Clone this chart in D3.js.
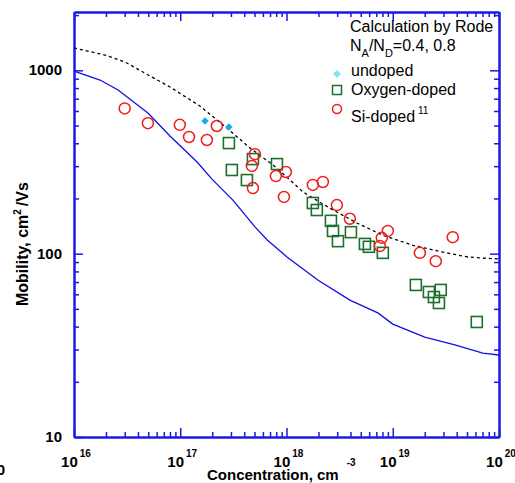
<!DOCTYPE html>
<html>
<head>
<meta charset="utf-8">
<script src="https://cdn.jsdelivr.net/npm/d3@7"></script>
<style>
  body { margin: 0; background: #fff; }
  svg { display: block; }
  text { font-family: "Liberation Sans", Arial, sans-serif; fill: #000; }
</style>
</head>
<body>
<svg id="chart" width="515" height="483"></svg>
<script>
// Rode calculation, N_A/N_D = 0.4 (dashed) and 0.8 (solid)
const rode04Conc = [1e16, 1.96e16, 3.02e16, 5.19e16, 8e16, 1.53e17, 2.75e17, 4.53e17, 7.45e17, 1.08e18, 1.43e18, 2.56e18, 4.59e18, 8.07e18, 1.55e19, 2.96e19, 5.08e19, 7.05e19, 1e20];
const rode04Mob  = [1324, 1211, 1110, 931, 811, 639, 484, 377, 305, 252, 217, 177, 147, 126, 111, 102, 95.9, 94.6, 93.5];
const rode08Conc = [1e16, 1.76e16, 2.6e16, 4.96e16, 8e16, 1.44e17, 1.99e17, 3.13e17, 5.05e17, 6.55e17, 1.01e18, 1.97e18, 3.95e18, 7.24e18, 1e19, 2e19, 3.84e19, 7.04e19, 1e20];
const rode08Mob  = [990, 885, 781, 585, 438, 316, 255, 196, 140, 119, 96, 71.8, 55.8, 47.5, 41.3, 35.1, 31.8, 28.7, 28.0];

// measured points
const undopedConc = [1.71e17, 2.87e17];
const undopedMob  = [529, 491];
const oxygenConc = [2.87e17, 3.06e17, 4.24e17, 4.83e17, 8.13e17, 1.77e18, 1.93e18, 2.62e18, 2.74e18, 3.05e18, 4.04e18, 5.47e18, 5.96e18, 8.07e18, 1.65e19, 2.19e19, 2.83e19, 2.44e19, 2.72e19, 6.18e19];
const oxygenMob  = [401, 286, 252, 328, 308, 189, 173, 151, 133, 117, 131, 113, 109, 101, 67.5, 61.8, 63.4, 58.0, 53.8, 42.4];
const siConc = [3e16, 4.96e16, 9.9e16, 1.21e17, 1.78e17, 2.21e17, 5.04e17, 4.72e17, 4.83e17, 7.94e17, 9.87e17, 9.46e17, 1.77e18, 2.2e18, 2.98e18, 3.95e18, 7.89e18, 8.99e18, 7.56e18, 1.8e19, 2.54e19, 3.67e19];
const siMob  = [620, 515, 504, 433, 417, 497, 349, 301, 228, 265, 279, 204, 237, 246, 184, 155, 122, 133, 110, 101, 91, 123];

// ticks
const xTickExps = [16, 17, 18, 19, 20];
const yTickVals = [10, 100, 1000];
const yTickLabels = ["10", "100", "1000"];

const svg = d3.select("#chart");
const axisColor = "#1a1ae6";

const x = d3.scaleLog().domain([1e16, 1e20]).range([74, 499]);
const y = d3.scaleLog().domain([10, 2080]).range([437, 12]);

const xMajor = xTickExps.map(e => Math.pow(10, e));
const xMinor = d3.range(16, 20).flatMap(e => d3.range(2, 10).map(k => k * Math.pow(10, e)));
const yMinor = [1, 2, 3].flatMap(e => d3.range(2, 10).map(k => k * Math.pow(10, e))).filter(v => v < 2080);

function styleAxis(g) {
  g.select(".domain").attr("stroke", axisColor).attr("stroke-width", 2);
  g.selectAll(".tick line").attr("stroke", axisColor).attr("stroke-width", 1.5);
  g.selectAll(".tick text").remove();
}

// frame + inward ticks on all four sides
[[d3.axisBottom, "translate(0,437)", x, xMajor, xMinor],
 [d3.axisTop, "translate(0,12)", x, xMajor, xMinor],
 [d3.axisLeft, "translate(74,0)", y, yTickVals, yMinor],
 [d3.axisRight, "translate(499,0)", y, yTickVals, yMinor]].forEach(([ax, tr, sc, major, minor]) => {
  svg.append("g").attr("transform", tr)
    .call(ax(sc).tickValues(minor).tickSize(-5).tickSizeOuter(0).tickFormat(""))
    .call(styleAxis);
  svg.append("g").attr("transform", tr)
    .call(ax(sc).tickValues(major).tickSize(-9).tickSizeOuter(0).tickFormat(""))
    .call(styleAxis);
});

// y tick labels
svg.append("g").selectAll("text")
  .data(yTickVals)
  .join("text")
  .attr("x", 62)
  .attr("y", d => y(d) + 5)
  .attr("text-anchor", "end")
  .attr("font-size", 15)
  .attr("font-weight", "bold")
  .text((d, i) => yTickLabels[i]);

// x tick labels 10^n
const xl = svg.append("g").selectAll("text")
  .data(xTickExps)
  .join("text")
  .attr("x", d => x(Math.pow(10, d)) + 2)
  .attr("y", 467)
  .attr("text-anchor", "middle")
  .attr("font-size", 15)
  .attr("font-weight", "bold");
xl.append("tspan").text("10");
xl.append("tspan").attr("dx", 2).attr("dy", -10).attr("font-size", 10).text(d => d);

// stray clipped label at far left
svg.append("text").attr("x", 5).attr("y", 475).attr("text-anchor", "end")
  .attr("font-size", 15).attr("font-weight", "bold").text("0");

// axis titles
const xt = svg.append("text").attr("x", 207).attr("y", 480)
  .attr("font-size", 15).attr("font-weight", "bold");
xt.append("tspan").text("Concentration, cm");
xt.append("tspan").attr("dx", 8).attr("dy", -14).attr("font-size", 10).text("-3");

const yt = svg.append("text")
  .attr("transform", "translate(28,306) rotate(-90)")
  .attr("font-size", 16).attr("font-weight", "bold");
yt.append("tspan").text("Mobility, cm");
yt.append("tspan").attr("dy", -7).attr("font-size", 10).text("2");
yt.append("tspan").attr("dy", 7).attr("dx", 3).text("/Vs");

// curves
const line = d3.line().x(d => x(d[0])).y(d => y(d[1]));
svg.append("path")
  .datum(d3.zip(rode08Conc, rode08Mob))
  .attr("d", line)
  .attr("fill", "none").attr("stroke", "#1010e0").attr("stroke-width", 1.3);
svg.append("path")
  .datum(d3.zip(rode04Conc, rode04Mob))
  .attr("d", line)
  .attr("fill", "none").attr("stroke", "#000").attr("stroke-width", 1.3)
  .attr("stroke-dasharray", "3,3");

// markers
svg.append("g").selectAll("rect")
  .data(d3.zip(oxygenConc, oxygenMob))
  .join("rect")
  .attr("x", d => x(d[0]) - 5.5).attr("y", d => y(d[1]) - 5.5)
  .attr("width", 11).attr("height", 11)
  .attr("fill", "none").attr("stroke", "#1e6e2e").attr("stroke-width", 1.6);

svg.append("g").selectAll("circle")
  .data(d3.zip(siConc, siMob))
  .join("circle")
  .attr("cx", d => x(d[0])).attr("cy", d => y(d[1])).attr("r", 5.5)
  .attr("fill", "none").attr("stroke", "#ee1c1c").attr("stroke-width", 1.5);

const diamond = d3.symbol().type(d3.symbolDiamond2).size(36);
svg.append("g").selectAll("path")
  .data(d3.zip(undopedConc, undopedMob))
  .join("path")
  .attr("transform", d => `translate(${x(d[0])},${y(d[1])})`)
  .attr("d", diamond)
  .attr("fill", "#1fa8e6");

// legend
const lg = svg.append("g").attr("font-size", 16);
lg.append("text").attr("x", 350).attr("y", 32).text("Calculation by Rode");
const na = lg.append("text").attr("x", 350).attr("y", 51);
na.append("tspan").text("N");
na.append("tspan").attr("dy", 6).attr("font-size", 11).text("A");
na.append("tspan").attr("dy", -6).text("/N");
na.append("tspan").attr("dy", 6).attr("font-size", 11).text("D");
na.append("tspan").attr("dy", -6).text("=0.4, 0.8");

lg.append("path").attr("transform", "translate(337,74)")
  .attr("d", d3.symbol().type(d3.symbolDiamond2).size(40)).attr("fill", "#80e6f6");
lg.append("text").attr("x", 351).attr("y", 76).text("undoped");
lg.append("rect").attr("x", 332.5).attr("y", 85.5).attr("width", 9).attr("height", 9)
  .attr("fill", "none").attr("stroke", "#1e6e2e").attr("stroke-width", 1.5);
lg.append("text").attr("x", 351).attr("y", 95).text("Oxygen-doped");
lg.append("circle").attr("cx", 337).attr("cy", 109).attr("r", 4.5)
  .attr("fill", "none").attr("stroke", "#ee1c1c").attr("stroke-width", 1.5);
const si = lg.append("text").attr("x", 351).attr("y", 122);
si.append("tspan").text("Si-doped");
si.append("tspan").attr("dx", 3).attr("dy", -8).attr("font-size", 10).text("11");
</script>
</body>
</html>
